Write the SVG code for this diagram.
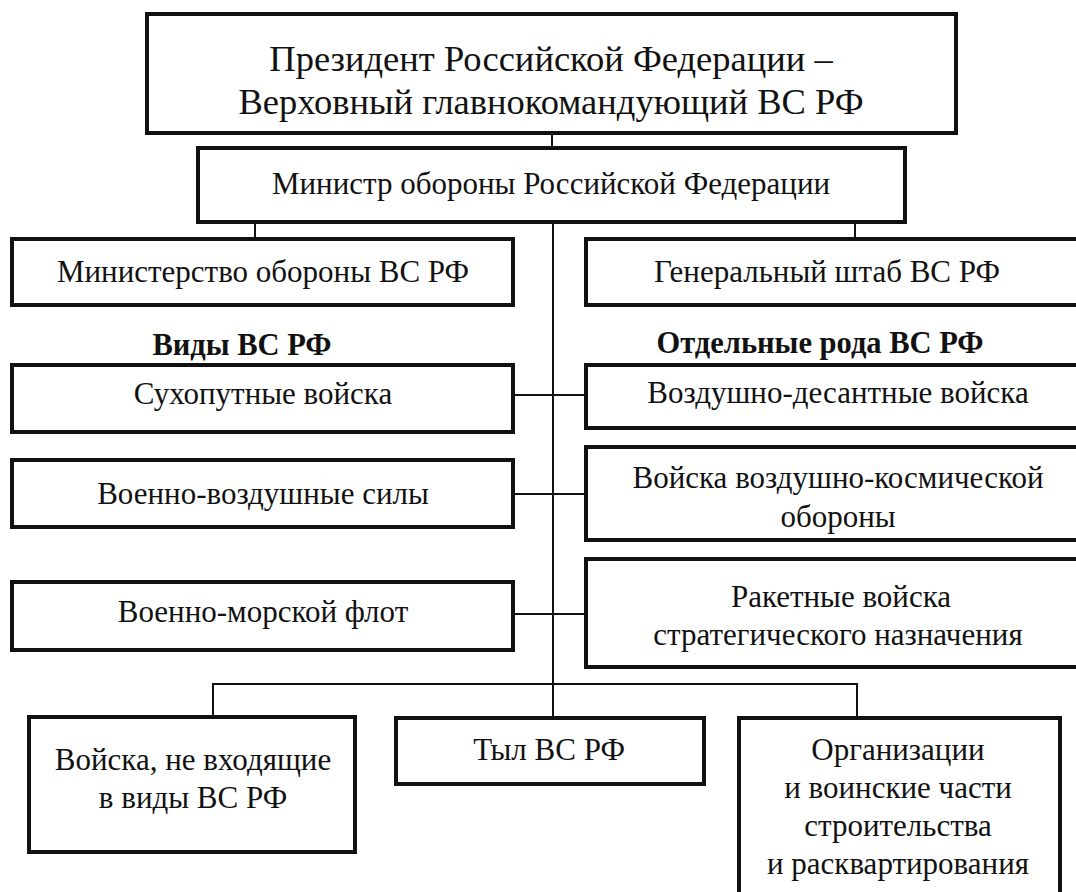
<svg xmlns="http://www.w3.org/2000/svg" width="1076" height="892" viewBox="0 0 1076 892">
<style>
.box{fill:#fff;stroke:#111;stroke-width:4}
.ln{fill:none;stroke:#111;stroke-width:2}
text{font-family:"Liberation Serif","Times New Roman",serif;font-size:31px;fill:#111;text-anchor:middle}
.big{font-size:36.5px}
.hd{font-weight:bold;font-size:30.5px}
</style>
<rect width="1076" height="892" fill="#fff"/>
<g id="connectors">
<path class="ln" d="M552 133V148"/>
<path class="ln" d="M255 222V239"/>
<path class="ln" d="M855 222V239"/>
<path class="ln" d="M553 222V718"/>
<path class="ln" d="M513 395H586"/>
<path class="ln" d="M513 494H586"/>
<path class="ln" d="M513 614H586"/>
<path class="ln" d="M213 717V684H857V718"/>
</g>
<g id="president"><rect class="box" x="147" y="14" width="809" height="119"/>
<text class="big" x="551" y="71">Президент Российской Федерации –</text>
<text class="big" x="551" y="114">Верховный главнокомандующий ВС РФ</text></g>
<g id="minister"><rect class="box" x="198" y="148" width="707" height="74"/>
<text x="551" y="194">Министр обороны Российской Федерации</text></g>
<g id="ministry"><rect class="box" x="12" y="239" width="501" height="66"/>
<text x="263" y="282">Министерство обороны ВС РФ</text></g>
<g id="genshtab"><rect class="box" x="586" y="239" width="504" height="66"/>
<text x="827" y="282">Генеральный штаб ВС РФ</text></g>
<g id="vidy-label"><text class="hd" x="242" y="355">Виды ВС РФ</text></g>
<g id="roda-label"><text class="hd" x="820" y="353">Отдельные рода ВС РФ</text></g>
<g id="sv"><rect class="box" x="12" y="365" width="501" height="67"/>
<text x="263" y="404">Сухопутные войска</text></g>
<g id="vvs"><rect class="box" x="12" y="460" width="501" height="67"/>
<text x="263" y="504">Военно-воздушные силы</text></g>
<g id="vmf"><rect class="box" x="12" y="582" width="501" height="68"/>
<text x="263" y="622">Военно-морской флот</text></g>
<g id="vdv"><rect class="box" x="586" y="365" width="504" height="63"/>
<text x="838" y="403">Воздушно-десантные войска</text></g>
<g id="vko"><rect class="box" x="586" y="447" width="504" height="93"/>
<text x="838" y="488">Войска воздушно-космической</text>
<text x="838" y="527">обороны</text></g>
<g id="rvsn"><rect class="box" x="586" y="559" width="504" height="108"/>
<text x="841" y="607">Ракетные войска</text>
<text x="838" y="645">стратегического назначения</text></g>
<g id="other"><rect class="box" x="29" y="717" width="326" height="135"/>
<text x="193" y="770">Войска, не входящие</text>
<text x="193" y="808">в виды ВС РФ</text></g>
<g id="tyl"><rect class="box" x="396" y="718" width="308" height="66"/>
<text x="549" y="760">Тыл ВС РФ</text></g>
<g id="org"><rect class="box" x="739" y="718" width="321" height="190"/>
<text x="898" y="760">Организации</text>
<text x="898" y="798">и воинские части</text>
<text x="898" y="836">строительства</text>
<text x="898" y="874">и расквартирования</text></g>
</svg>
